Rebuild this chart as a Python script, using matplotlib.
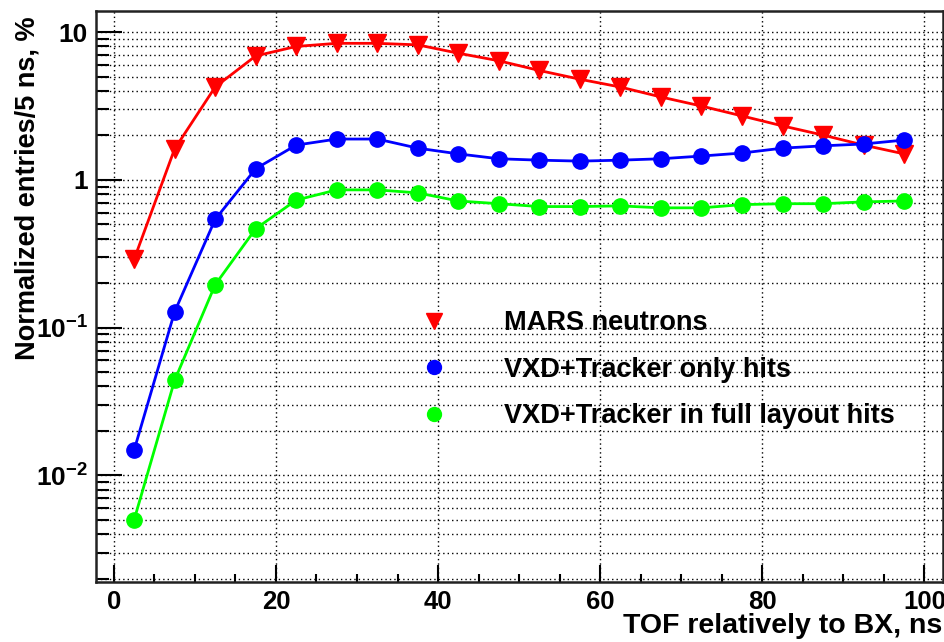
import matplotlib
matplotlib.use("Agg")
import matplotlib.pyplot as plt
from matplotlib.ticker import FixedLocator, FixedFormatter, MultipleLocator, NullFormatter
from matplotlib.lines import Line2D
import numpy as np

plt.rcParams['font.family'] = ['Liberation Sans', 'DejaVu Sans']
plt.rcParams['font.weight'] = 'bold'
plt.rcParams['mathtext.fontset'] = 'custom'
plt.rcParams['mathtext.rm'] = 'Liberation Sans:bold'
plt.rcParams['mathtext.bf'] = 'Liberation Sans:bold'
plt.rcParams['mathtext.it'] = 'Liberation Sans:bold'

tof = [2.5, 7.5, 12.5, 17.5, 22.5, 27.5, 32.5, 37.5, 42.5, 47.5,
       52.5, 57.5, 62.5, 67.5, 72.5, 77.5, 82.5, 87.5, 92.5, 97.5]
mars_neutrons = [0.29, 1.62, 4.25, 6.9, 8.0, 8.4, 8.4, 8.2, 7.2, 6.4,
                 5.5, 4.8, 4.25, 3.64, 3.16, 2.71, 2.32, 2.01, 1.72, 1.5]
vxd_only = [0.0148, 0.128, 0.54, 1.19, 1.72, 1.89, 1.89, 1.64, 1.50, 1.39,
            1.36, 1.34, 1.36, 1.39, 1.45, 1.52, 1.64, 1.70, 1.75, 1.86]
vxd_full = [0.005, 0.044, 0.195, 0.467, 0.73, 0.856, 0.856, 0.817, 0.72, 0.69,
            0.66, 0.66, 0.667, 0.647, 0.647, 0.68, 0.69, 0.69, 0.71, 0.72]
labels = ["MARS neutrons", "VXD+Tracker only hits", "VXD+Tracker in full layout hits"]
ytick_vals = [0.01, 0.1, 1, 10]
ytick_labels = [r'$10^{-2}$', r'$10^{-1}$', '1', '10']

fig = plt.figure(figsize=(9.44, 6.42), dpi=100)
ax = fig.add_axes([96/944, 60/642, 847/944, 571/642])

ax.plot(tof, mars_neutrons, color='#ff0000', lw=2.0, marker='v', ms=13, zorder=3)
ax.plot(tof, vxd_only, color='#0000ff', lw=2.0, marker='o', ms=11, zorder=4)
ax.plot(tof, vxd_full, color='#00ff00', lw=2.0, marker='o', ms=11, zorder=4)

ax.set_yscale('log')
ax.set_xlim(-2.2, 102.3)
ax.set_ylim(0.0019, 13.9)

ax.yaxis.set_major_locator(FixedLocator(ytick_vals))
ax.yaxis.set_major_formatter(FixedFormatter(ytick_labels))
minors = [m * 10.0**e for e in range(-3, 2) for m in range(2, 10)]
ax.yaxis.set_minor_locator(FixedLocator(minors))
ax.yaxis.set_minor_formatter(NullFormatter())
ax.xaxis.set_major_locator(MultipleLocator(20))
ax.xaxis.set_minor_locator(MultipleLocator(5))

ax.tick_params(axis='both', which='both', direction='in', top=False, right=False,
               width=1.5, color='black')
ax.tick_params(axis='y', which='major', length=19, labelsize=19, pad=6)
ax.tick_params(axis='y', which='minor', length=9)
ax.tick_params(axis='x', which='major', length=12, labelsize=18.5, pad=6)
ax.tick_params(axis='x', which='minor', length=6)

ax.grid(True, which='major', axis='x', color='black', linestyle=(0, (1, 2.2)), lw=1.0)
ax.grid(True, which='both', axis='y', color='black', linestyle=(0, (1, 2.2)), lw=1.0)
ax.set_axisbelow(True)

for s in ax.spines.values():
    s.set_linewidth(1.8)
    s.set_color('#222222')

ax.set_xlabel("TOF relatively to BX, ns", fontsize=20.5, fontweight='bold')
ax.xaxis.set_label_coords(0.999, -0.0885)
ax.xaxis.label.set_horizontalalignment('right')
ax.xaxis.label.set_verticalalignment('baseline')

ax.set_ylabel("Normalized entries/5 ns, %", fontsize=19.5, fontweight='bold')
ax.yaxis.set_label_coords(-0.066, 0.99)
ax.yaxis.label.set_horizontalalignment('right')
ax.yaxis.label.set_verticalalignment('bottom')

handles = [
    Line2D([], [], color='#ff0000', marker='v', ms=11, linestyle='none'),
    Line2D([], [], color='#0000ff', marker='o', ms=10, linestyle='none'),
    Line2D([], [], color='#00ff00', marker='o', ms=10, linestyle='none'),
]
leg = ax.legend(handles, labels, loc='upper left', bbox_to_anchor=(0.37, 0.495),
                frameon=False, fontsize=19.5, handlelength=1.0, handletextpad=2.1,
                labelspacing=0.76, borderaxespad=0)
for t in leg.get_texts():
    t.set_fontweight('bold')

fig.savefig("out.png", dpi=100)
